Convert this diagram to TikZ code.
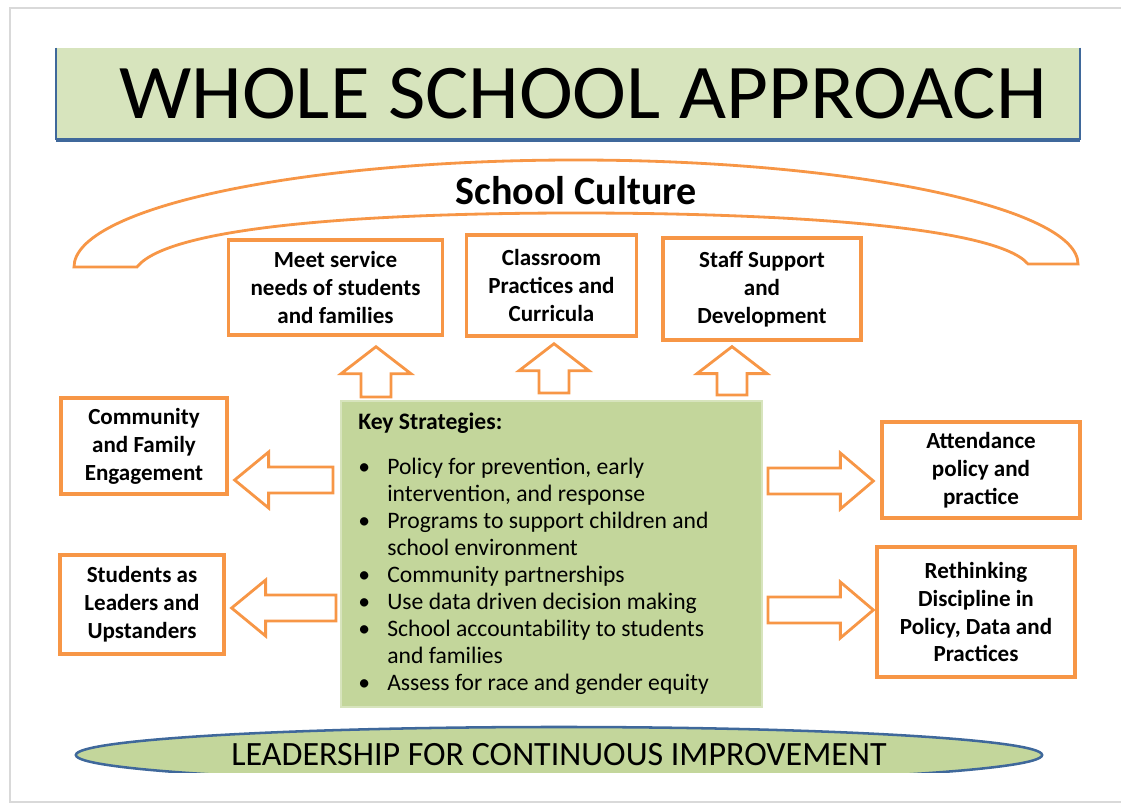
\documentclass[tikz,border=0pt]{standalone}
\usepackage{fontspec}
\setmainfont{Carlito}
\usetikzlibrary{positioning,shapes.geometric,calc}

\definecolor{ssorange}{HTML}{F79646}
\definecolor{titlegreen}{HTML}{D7E4BD}
\definecolor{keygreen}{HTML}{C3D69B}
\definecolor{ssblue}{HTML}{3F689B}

\tikzset{
  box/.style={draw=ssorange, line width=2.3pt, fill=white, align=center, inner sep=2pt,
    font=\bfseries\fontsize{16.4}{19.9}\selectfont},
  blockarr/.style={draw=ssorange, line width=2pt, fill=white, line join=miter},
}

% outlined block arrows, #1 = tail, #2 = tip
\newcommand{\blockup}[2]{%
  \draw[blockarr] ($(#1)+(-15,0)$) -- ($(#2)+(-15,27)$) -- ($(#2)+(-35,27)$) -- (#2)
    -- ($(#2)+(35,27)$) -- ($(#2)+(15,27)$) -- ($(#1)+(15,0)$) -- cycle;}
\newcommand{\blockleft}[2]{%
  \draw[blockarr] ($(#1)+(0,-13)$) -- ($(#2)+(34,-13)$) -- ($(#2)+(34,-28)$) -- (#2)
    -- ($(#2)+(34,28)$) -- ($(#2)+(34,13)$) -- ($(#1)+(0,13)$) -- cycle;}
\newcommand{\blockright}[2]{%
  \draw[blockarr] ($(#1)+(0,-13)$) -- ($(#2)+(-33,-13)$) -- ($(#2)+(-33,-28)$) -- (#2)
    -- ($(#2)+(-33,28)$) -- ($(#2)+(-33,13)$) -- ($(#1)+(0,13)$) -- cycle;}

\begin{document}
\begin{tikzpicture}[x=0.025cm, y=-0.025cm]
\useasboundingbox (0,0) rectangle (1121,808);
% page frame
\draw[gray!30, line width=1.2pt] (1121,8) -- (10,8) -- (10,802) -- (1121,802);

% title
\node[fill=titlegreen, minimum width=25.6cm, minimum height=2.3cm, inner sep=0] (titlebox) at (568,94) {};
\draw[ssblue, line width=1.5pt] (titlebox.north west) -- (titlebox.south west);
\draw[ssblue, line width=1.5pt] (titlebox.north east) -- (titlebox.south east);
\draw[ssblue, line width=3pt] (titlebox.south west) -- (titlebox.south east);
\node[font=\fontsize{55}{60}\selectfont, xscale=1.05, transform shape] (title) at (583,94) {WHOLE SCHOOL APPROACH};

% school culture
\draw[ssorange, line width=2pt, fill=white] (74,267) .. controls (74,208) and (299,160) .. (576,160)
  .. controls (853,160) and (1078,208) .. (1078,264) -- (1028,264)
  .. controls (995,225) and (772,213) .. (576,213)
  .. controls (380,213) and (170,225) .. (137,267) -- cycle;
\node[font=\bfseries\fontsize{28.5}{32}\selectfont] (culture) at (576,191) {School Culture};

% boxes
\node[box, minimum width=5.33cm, minimum height=2.38cm] (meet) at (335.5,287.5) {Meet service\\needs of students\\and families};
\node[box, minimum width=4.23cm, minimum height=2.53cm] (classroom) at (551.5,285.5) {Classroom\\Practices and\\Curricula};
\node[box, minimum width=4.95cm, minimum height=2.55cm] (staff) at (762,289) {Staff Support\\and\\Development};
\node[box, minimum width=4.15cm, minimum height=2.4cm] (community) at (144,446) {Community\\and Family\\Engagement};
\node[box, minimum width=4.1cm, minimum height=2.48cm] (students) at (142,604.5) {Students as\\Leaders and\\Upstanders};
\node[box, minimum width=4.95cm, minimum height=2.4cm] (attendance) at (981,470) {Attendance\\policy and\\practice};
\node[box, minimum width=4.95cm, minimum height=3.25cm] (discipline) at (976,612) {Rethinking\\Discipline in\\Policy, Data and\\Practices};

% key strategies
\node[fill=keygreen, draw=titlegreen, line width=1.5pt, minimum width=10.53cm, minimum height=7.65cm] (keys) at (551.5,554) {};
\node[anchor=base west, inner sep=0, font=\fontsize{16.8}{19.2}\selectfont] (keylist) at (358,429) {%
  \begin{tabular}[t]{@{}p{0.725cm}@{}l@{}}
  \multicolumn{2}{@{}l@{}}{\textbf{Key Strategies:}}\\[13pt]
  \textbullet & Policy for prevention, early\\
   & intervention, and response\\
  \textbullet & Programs to support children and\\
   & school environment\\
  \textbullet & Community partnerships\\
  \textbullet & Use data driven decision making\\
  \textbullet & School accountability to students\\
   & and families\\
  \textbullet & Assess for race and gender equity
  \end{tabular}};

% arrows
\coordinate (u1) at (376,397);
\coordinate (u1t) at ($(u1 |- meet.south)+(0,10)$);
\coordinate (u2) at (554,393);
\coordinate (u2t) at ($(u2 |- classroom.south)+(0,6)$);
\coordinate (u3) at (732,395);
\coordinate (u3t) at ($(u3 |- staff.south)+(0,5)$);
\blockup{u1}{u1t}
\blockup{u2}{u2t}
\blockup{u3}{u3t}
\coordinate (l1) at (333,480);
\coordinate (l1t) at ($(l1 -| community.east)+(6,0)$);
\coordinate (l2) at (336,608);
\coordinate (l2t) at ($(l2 -| students.east)+(6,0)$);
\blockleft{l1}{l1t}
\blockleft{l2}{l2t}
\coordinate (r1) at (768,481);
\coordinate (r1t) at ($(r1 -| attendance.west)+(-7,0)$);
\coordinate (r2) at (768,610);
\coordinate (r2t) at ($(r2 -| discipline.west)+(-2,0)$);
\blockright{r1}{r1t}
\blockright{r2}{r2t}

% leadership
\begin{scope}
\clip (0,0) rectangle (1121,772);
\node[ellipse, draw=ssblue, line width=1.8pt, fill=keygreen, minimum width=24.15cm, minimum height=1.4cm, inner sep=0,
  font=\fontsize{24.2}{28}\selectfont] (leadership) at (559,755) {LEADERSHIP FOR CONTINUOUS IMPROVEMENT};
\end{scope}
\end{tikzpicture}
\end{document}
